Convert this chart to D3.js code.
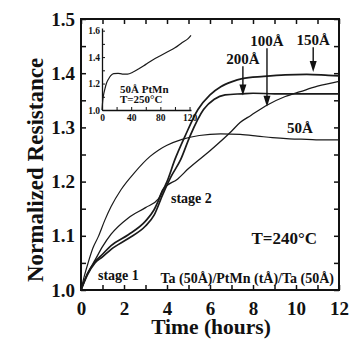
<!DOCTYPE html>
<html>
<head>
<meta charset="utf-8">
<script src="https://cdn.jsdelivr.net/npm/d3@7"></script>
<style>
  body { margin: 0; background: #fff; }
  svg text { font-family: "Liberation Serif", "Times New Roman", serif; font-weight: bold; fill: #111; }
</style>
</head>
<body>
<svg id="chart-svg" width="351" height="340"></svg>
<script>
// time (hours) -> normalized resistance
var t50 = [0, 0.15, 0.33, 0.55, 0.8, 1.1, 1.4, 1.86, 2.5, 3.2, 3.6, 4.0, 4.7, 5.5, 6.5, 7.4, 8.2, 8.9, 9.7, 10.5, 11.3, 12];
var r50 = [1.0, 1.025, 1.05, 1.077, 1.098, 1.128, 1.154, 1.185, 1.217, 1.246, 1.258, 1.267, 1.278, 1.285, 1.288, 1.287, 1.284, 1.281, 1.279, 1.278, 1.277, 1.277];

var t100 = [0, 0.3, 0.65, 1.0, 1.4, 2.2, 3.0, 3.6, 3.8, 4.5, 5.0, 6.0, 7.0, 7.4, 7.9, 8.6, 9.5, 10.2, 11.0, 12];
var r100 = [1.0, 1.03, 1.055, 1.08, 1.103, 1.133, 1.152, 1.168, 1.185, 1.205, 1.224, 1.257, 1.293, 1.309, 1.322, 1.34, 1.357, 1.366, 1.376, 1.385];

var t150 = [0, 0.3, 0.65, 1.0, 1.4, 2.2, 3.0, 3.4, 3.8, 4.0, 4.37, 4.84, 5.44, 6.0, 6.5, 7.0, 7.5, 8.5, 9.5, 10.5, 11.5, 12];
var r150 = [1.0, 1.03, 1.052, 1.066, 1.082, 1.102, 1.127, 1.148, 1.183, 1.2, 1.241, 1.284, 1.333, 1.36, 1.375, 1.384, 1.39, 1.394, 1.397, 1.398, 1.396, 1.395];

var t200 = [0, 0.3, 0.65, 1.0, 1.4, 2.2, 3.0, 3.4, 3.8, 4.2, 4.64, 5.07, 5.7, 6.2, 6.7, 7.5, 8.0, 9.0, 10.0, 11.0, 12];
var r200 = [1.0, 1.028, 1.05, 1.061, 1.075, 1.095, 1.118, 1.138, 1.176, 1.21, 1.241, 1.284, 1.333, 1.352, 1.36, 1.362, 1.363, 1.362, 1.362, 1.362, 1.362];

// inset: 50A PtMn at 250C, time (hours) -> resistance
var tInset = [0, 1, 2, 4, 6, 9, 12, 16, 22, 28, 35, 42, 50, 60, 70, 80, 90, 100, 110, 118, 122];
var rInset = [1.0, 1.07, 1.11, 1.16, 1.2, 1.235, 1.26, 1.275, 1.277, 1.272, 1.272, 1.285, 1.31, 1.345, 1.38, 1.41, 1.44, 1.47, 1.51, 1.54, 1.565];

var xTicks = [0, 2, 4, 6, 8, 10, 12];
var yTicks = [1.0, 1.1, 1.2, 1.3, 1.4, 1.5];
var insetXTicks = [0, 40, 80, 120];
var insetYTicks = [1.0, 1.2, 1.4, 1.6];

// thickness labels and arrows: [label, time, arrow start, arrow tip]
var arrows = [
  ["200Å", 7.53, 1.413, 1.359],
  ["100Å", 8.65, 1.446, 1.338],
  ["150Å", 10.8, 1.448, 1.402]
];

var svg = d3.select("#chart-svg");
var pLeft = 81, pRight = 339, pTop = 19, pBottom = 290;

var x = d3.scaleLinear().domain([0, 12]).range([pLeft, pRight]);
var y = d3.scaleLinear().domain([1.0, 1.5]).range([pBottom, pTop]);

function minorTicks(a, b, step) {
  var out = [];
  for (var v = a; v <= b + 1e-9; v += step) out.push(+v.toFixed(3));
  return out;
}
var xMinor = minorTicks(0, 12, 1);
var yMinor = minorTicks(1.0, 1.5, 0.05);

function styleAxis(g, size) {
  g.select(".domain").remove();
  g.selectAll("line").attr("stroke", "#111").attr("stroke-width", 1.5);
  g.selectAll("text").style("font-size", size + "px").attr("fill", "#111");
}

// main axes (ticks pointing inward)
svg.append("g").attr("transform", "translate(0," + pBottom + ")")
  .call(d3.axisBottom(x).tickValues(xMinor).tickSizeInner(-5).tickSizeOuter(0).tickPadding(12)
    .tickFormat(function(d) { return xTicks.indexOf(d) >= 0 ? d : ""; }))
  .call(styleAxis, 19);
svg.append("g").attr("transform", "translate(0," + pTop + ")")
  .call(d3.axisTop(x).tickValues(xMinor).tickSizeInner(-5).tickSizeOuter(0).tickFormat(""))
  .call(styleAxis, 19);
svg.append("g").attr("transform", "translate(" + pLeft + ",0)")
  .call(d3.axisLeft(y).tickValues(yMinor).tickSizeInner(-5).tickSizeOuter(0).tickPadding(6)
    .tickFormat(function(d) { return yTicks.some(function(v) { return Math.abs(v - d) < 1e-6; }) ? d3.format(".1f")(d) : ""; }))
  .call(styleAxis, 19);
svg.append("g").attr("transform", "translate(" + pRight + ",0)")
  .call(d3.axisRight(y).tickValues(yMinor).tickSizeInner(-5).tickSizeOuter(0).tickFormat(""))
  .call(styleAxis, 19);

svg.append("rect")
  .attr("x", pLeft).attr("y", pTop).attr("width", pRight - pLeft).attr("height", pBottom - pTop)
  .attr("fill", "none").attr("stroke", "#111").attr("stroke-width", 2);

// axis titles
svg.append("text")
  .attr("x", (pLeft + pRight) / 2 + 1).attr("y", 334)
  .attr("text-anchor", "middle").style("font-size", "21.5px")
  .text("Time (hours)");
svg.append("text")
  .attr("transform", "translate(43,170) rotate(-90)")
  .attr("text-anchor", "middle").style("font-size", "23px")
  .text("Normalized Resistance");

// curves
var line = d3.line().curve(d3.curveMonotoneX);
function drawCurve(ts, rs, w) {
  svg.append("path")
    .datum(ts.map(function(t, i) { return [x(t), y(rs[i])]; }))
    .attr("d", line)
    .attr("fill", "none").attr("stroke", "#1a1a1a").attr("stroke-width", w);
}
drawCurve(t50, r50, 1.2);
drawCurve(t100, r100, 1.3);
drawCurve(t150, r150, 1.7);
drawCurve(t200, r200, 1.7);

// arrows and labels
arrows.forEach(function(a) {
  var ax = x(a[1]), y0 = y(a[2]), y1 = y(a[3]);
  svg.append("line").attr("x1", ax).attr("x2", ax).attr("y1", y0).attr("y2", y1 - 8)
    .attr("stroke", "#111").attr("stroke-width", 1.4);
  svg.append("path")
    .attr("d", "M" + (ax - 3.5) + "," + (y1 - 11) + "L" + (ax + 3.5) + "," + (y1 - 11) + "L" + ax + "," + y1 + "Z")
    .attr("fill", "#111");
  svg.append("text").attr("x", ax).attr("y", y0 - 2)
    .attr("text-anchor", "middle").style("font-size", "15px").text(a[0]);
});

svg.append("text").attr("x", 300).attr("y", 133).attr("text-anchor", "middle")
  .style("font-size", "15px").text("50Å");
svg.append("text").attr("x", 171).attr("y", 203).style("font-size", "14px").text("stage 2");
svg.append("text").attr("x", 98).attr("y", 280).style("font-size", "14px").text("stage 1");
svg.append("text").attr("x", 317).attr("y", 244).attr("text-anchor", "end")
  .style("font-size", "17px").text("T=240°C");
svg.append("text").attr("x", 334).attr("y", 283).attr("text-anchor", "end")
  .style("font-size", "14px").text("Ta (50Å)/PtMn (tÅ)/Ta (50Å)");

// inset
var ix = d3.scaleLinear().domain([0, 122]).range([102, 191]);
var iy = d3.scaleLinear().domain([1.0, 1.62]).range([110, 28]);
var inset = svg.append("g");

inset.append("g").attr("transform", "translate(0,110)")
  .call(d3.axisBottom(ix).tickValues(minorTicks(0, 120, 20)).tickSizeInner(-3).tickSizeOuter(0).tickPadding(4)
    .tickFormat(function(d) { return insetXTicks.indexOf(d) >= 0 ? d : ""; }))
  .call(function(g) {
    g.select(".domain").attr("stroke", "#111").attr("stroke-width", 1.3);
    g.selectAll("line").attr("stroke", "#111");
    g.selectAll("text").style("font-size", "9.5px");
  });
inset.append("g").attr("transform", "translate(102,0)")
  .call(d3.axisLeft(iy).tickValues(minorTicks(1.0, 1.6, 0.1)).tickSizeInner(-3).tickSizeOuter(0).tickPadding(2)
    .tickFormat(function(d) { return insetYTicks.some(function(v) { return Math.abs(v - d) < 1e-6; }) ? d3.format(".1f")(d) : ""; }))
  .call(function(g) {
    g.select(".domain").attr("stroke", "#111").attr("stroke-width", 1.3);
    g.selectAll("line").attr("stroke", "#111");
    g.selectAll("text").style("font-size", "9.5px");
  });

inset.append("path")
  .datum(tInset.map(function(t, i) { return [ix(t), iy(rInset[i])]; }))
  .attr("d", line)
  .attr("fill", "none").attr("stroke", "#1a1a1a").attr("stroke-width", 1.2);

inset.append("text").attr("x", 120).attr("y", 92.5).style("font-size", "11px").text("50Å PtMn");
inset.append("text").attr("x", 120).attr("y", 103).style("font-size", "11px").text("T=250°C");
</script>
</body>
</html>
